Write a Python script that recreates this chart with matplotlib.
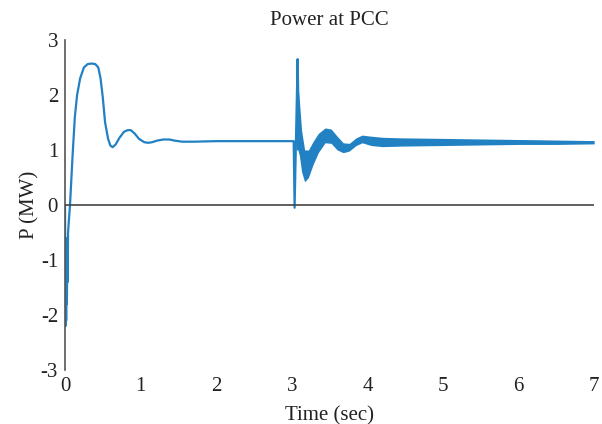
import numpy as np
import matplotlib.pyplot as plt

plt.rcParams['font.family'] = ['Liberation Serif', 'DejaVu Serif']

# Power at PCC (time in s, power in MW)
t_main = [0.0, 0.005, 0.01, 0.015, 0.02, 0.025, 0.03, 0.035, 0.04, 0.05, 0.066,
          0.1, 0.13, 0.16, 0.2, 0.25, 0.3, 0.35, 0.4, 0.44, 0.47, 0.5, 0.53,
          0.57, 0.6, 0.63, 0.67, 0.72, 0.78, 0.83, 0.87, 0.92, 0.98, 1.05,
          1.1, 1.15, 1.22, 1.3, 1.38, 1.45, 1.55, 1.7, 2.0, 2.5, 3.0, 3.025,
          3.037, 3.06, 3.077, 3.09, 3.11, 3.14, 3.17, 3.22, 3.28, 3.35, 3.44,
          3.52, 3.6, 3.68, 3.76, 3.85, 3.93, 4.05, 4.2, 4.45, 5.0, 5.5, 6.0,
          6.5, 7.0]
p_main = [0.0, -2.2, -0.6, -2.1, -0.7, -1.8, -0.7, -1.4, -0.5, -0.3, 0.0,
          0.9, 1.6, 2.0, 2.3, 2.5, 2.56, 2.57, 2.56, 2.5, 2.3, 1.95, 1.5,
          1.2, 1.08, 1.05, 1.1, 1.22, 1.33, 1.36, 1.36, 1.3, 1.2, 1.14,
          1.13, 1.14, 1.17, 1.19, 1.19, 1.17, 1.15, 1.15, 1.16, 1.16, 1.16, 1.16,
          -0.05, 1.5, 2.65, 1.6, 1.2, 0.95, 0.71, 0.75, 0.94, 1.12, 1.26,
          1.25, 1.12, 1.04, 1.05, 1.15, 1.2, 1.17, 1.15, 1.14, 1.15, 1.15, 1.15,
          1.14, 1.14]

# oscillation band after the second event
t_band = [3.06, 3.08, 3.10, 3.13, 3.17, 3.22, 3.28, 3.35, 3.44, 3.52, 3.60,
          3.68, 3.76, 3.85, 3.93, 4.05, 4.2, 4.45, 5.0, 5.5, 6.0, 6.5, 7.0]
p_hi = [1.9, 2.2, 1.9, 1.35, 1.0, 1.0, 1.15, 1.3, 1.4, 1.38, 1.25,
        1.13, 1.12, 1.22, 1.27, 1.25, 1.23, 1.22, 1.21, 1.2, 1.19, 1.18, 1.17]
p_lo = [1.0, 1.0, 0.9, 0.6, 0.42, 0.5, 0.73, 0.95, 1.13, 1.12, 1.0,
        0.95, 0.98, 1.08, 1.13, 1.08, 1.06, 1.07, 1.08, 1.09, 1.1, 1.1, 1.11]

x_ticks = [0, 1, 2, 3, 4, 5, 6, 7]
y_ticks = [-3, -2, -1, 0, 1, 2, 3]

blue = '#2181c3'
text_col = '#222222'

fig = plt.figure(figsize=(6.02, 4.24), dpi=100)
ax = fig.add_axes([0.108, 0.127, 0.879, 0.779])

ax.fill_between(t_band, p_lo, p_hi, color=blue, linewidth=0)
ax.plot(t_main, p_main, color=blue, linewidth=1.6)
ax.axhline(0, color='#444444', linewidth=1.2, zorder=3)

ax.set_xlim(0, 7)
ax.set_ylim(-3, 3)
ax.set_xticks(x_ticks)
ax.set_yticks(y_ticks)
ax.set_yticklabels([str(v) for v in y_ticks])

for s in ['top', 'right', 'bottom']:
    ax.spines[s].set_visible(False)
ax.spines['left'].set_color('#555555')
ax.spines['left'].set_linewidth(1.2)
ax.tick_params(length=0, labelsize=15, colors=text_col)
ax.tick_params(axis='y', pad=5)
ax.tick_params(axis='x', pad=5)

ax.set_title('Power at PCC', fontsize=15, color=text_col, pad=11)
ax.set_xlabel('Time (sec)', fontsize=15, color=text_col, labelpad=7)
ax.set_ylabel('P (MW)', fontsize=15, color=text_col, labelpad=1)

fig.savefig('out.png', dpi=100)
